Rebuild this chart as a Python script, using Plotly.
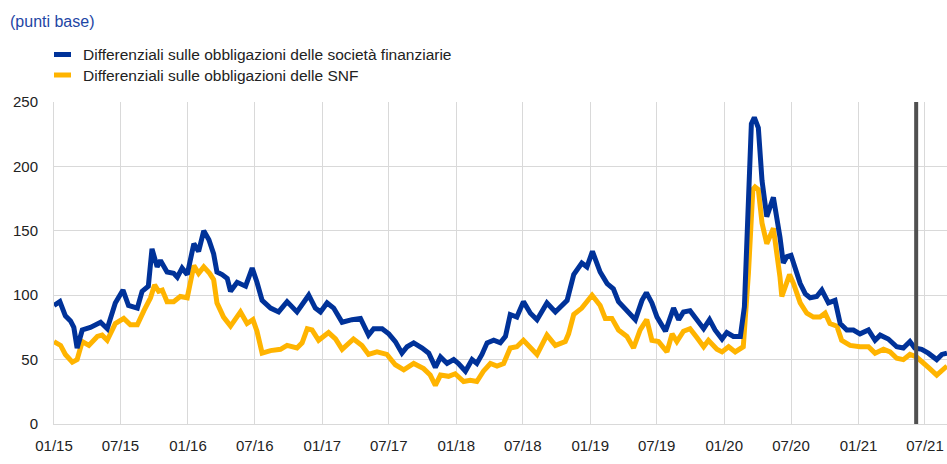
import plotly.graph_objects as go

# Bond spreads, basis points
fin_dates = [
    "2015-01-01", "2015-01-17", "2015-02-01", "2015-02-15", "2015-02-24", "2015-03-05", "2015-03-19",
    "2015-04-10", "2015-05-08", "2015-05-26", "2015-06-17", "2015-07-08", "2015-07-23", "2015-08-16",
    "2015-08-29", "2015-09-15", "2015-09-25", "2015-10-09", "2015-10-18", "2015-11-05", "2015-11-23",
    "2015-12-03", "2015-12-16", "2015-12-30", "2016-01-17", "2016-01-30", "2016-02-13", "2016-02-27",
    "2016-03-11", "2016-03-20", "2016-04-03", "2016-04-17", "2016-04-26", "2016-05-14", "2016-06-06",
    "2016-06-24", "2016-07-07", "2016-07-21", "2016-08-13", "2016-09-04", "2016-09-27", "2016-10-24",
    "2016-11-25", "2016-12-13", "2016-12-27", "2017-01-14", "2017-02-01", "2017-02-24", "2017-03-23",
    "2017-04-15", "2017-05-07", "2017-05-21", "2017-06-13", "2017-07-01", "2017-07-19", "2017-08-06",
    "2017-08-20", "2017-09-07", "2017-09-30", "2017-10-18", "2017-11-05", "2017-11-19", "2017-12-07",
    "2017-12-25", "2018-01-07", "2018-01-26", "2018-02-13", "2018-02-26", "2018-03-12", "2018-03-26",
    "2018-04-13", "2018-05-01", "2018-05-15", "2018-05-28", "2018-06-15", "2018-07-03", "2018-07-22",
    "2018-08-09", "2018-09-05", "2018-09-28", "2018-10-30", "2018-11-17", "2018-12-09", "2018-12-23",
    "2019-01-07", "2019-01-28", "2019-02-16", "2019-03-05", "2019-03-19", "2019-04-11", "2019-05-04",
    "2019-05-22", "2019-06-03", "2019-06-18", "2019-07-02", "2019-07-25", "2019-08-08", "2019-08-16",
    "2019-08-30", "2019-09-12", "2019-09-30", "2019-10-19", "2019-11-06", "2019-11-22", "2019-12-07",
    "2019-12-26", "2020-01-08", "2020-01-26", "2020-02-14", "2020-02-25", "2020-03-07", "2020-03-15",
    "2020-03-23", "2020-04-03", "2020-04-13", "2020-04-26", "2020-05-14", "2020-05-23", "2020-06-01",
    "2020-06-10", "2020-06-20", "2020-07-01", "2020-07-12", "2020-07-26", "2020-08-09", "2020-08-22",
    "2020-09-09", "2020-09-23", "2020-10-11", "2020-10-29", "2020-11-12", "2020-11-30", "2020-12-18",
    "2021-01-05", "2021-01-28", "2021-02-15", "2021-03-01", "2021-03-23", "2021-04-15", "2021-05-03",
    "2021-05-21", "2021-06-03", "2021-06-22", "2021-07-10", "2021-08-02", "2021-08-16", "2021-08-30",
]
fin_spread = [
    92, 95, 84, 80, 75, 59, 73,
    75, 79, 74, 94, 104, 92, 90,
    103, 107, 136, 122, 127, 118, 117,
    114, 121, 116, 140, 134, 150, 143,
    132, 118, 116, 113, 103, 110, 107,
    121, 110, 96, 90, 87, 95, 87,
    100, 90, 87, 94, 90, 79, 81,
    82, 69, 74, 74, 70, 64, 55,
    60, 63, 59, 55, 44, 52, 47,
    50, 47, 41, 50, 47, 54, 63,
    65, 63, 68, 85, 83, 95, 86,
    81, 94, 87, 96, 116, 125, 122,
    134, 118, 109, 105, 95, 88, 81,
    96, 102, 94, 83, 72, 83, 90,
    81, 87, 88, 81, 74, 81, 73,
    66, 71, 68, 68, 91, 182, 233,
    238, 230, 189, 161, 176, 161, 145,
    125, 130, 131, 122, 109, 101, 98,
    99, 104, 94, 96, 78, 73, 73,
    70, 73, 65, 69, 66, 60, 59,
    64, 59, 58, 55, 50, 54, 55,
]

nfc_dates = [
    "2015-01-01", "2015-01-19", "2015-02-01", "2015-02-20", "2015-03-05", "2015-03-19", "2015-04-06",
    "2015-04-29", "2015-05-12", "2015-05-26", "2015-06-17", "2015-07-10", "2015-07-28", "2015-08-16",
    "2015-09-03", "2015-09-21", "2015-10-02", "2015-10-13", "2015-10-23", "2015-11-05", "2015-11-23",
    "2015-12-11", "2015-12-30", "2016-01-17", "2016-01-30", "2016-02-13", "2016-02-29", "2016-03-11",
    "2016-03-20", "2016-04-07", "2016-04-26", "2016-05-23", "2016-06-10", "2016-06-26", "2016-07-07",
    "2016-07-21", "2016-08-13", "2016-09-09", "2016-09-27", "2016-10-24", "2016-11-07", "2016-11-21",
    "2016-12-04", "2016-12-22", "2017-01-18", "2017-02-06", "2017-02-24", "2017-03-14", "2017-03-27",
    "2017-04-19", "2017-05-07", "2017-05-30", "2017-06-26", "2017-07-19", "2017-08-11", "2017-09-07",
    "2017-10-04", "2017-10-22", "2017-11-05", "2017-11-19", "2017-12-11", "2017-12-29", "2018-01-21",
    "2018-02-08", "2018-02-26", "2018-03-16", "2018-04-04", "2018-04-22", "2018-05-10", "2018-05-28",
    "2018-06-15", "2018-07-03", "2018-07-22", "2018-08-09", "2018-09-05", "2018-09-28", "2018-10-25",
    "2018-11-03", "2018-11-17", "2018-12-09", "2019-01-06", "2019-01-28", "2019-02-11", "2019-03-01",
    "2019-03-19", "2019-04-11", "2019-04-29", "2019-05-17", "2019-06-04", "2019-06-18", "2019-07-06",
    "2019-07-29", "2019-08-12", "2019-08-25", "2019-09-12", "2019-09-30", "2019-10-19", "2019-11-06",
    "2019-11-19", "2019-12-12", "2019-12-26", "2020-01-13", "2020-01-31", "2020-02-22", "2020-03-07",
    "2020-03-19", "2020-03-25", "2020-04-03", "2020-04-13", "2020-04-26", "2020-05-14", "2020-05-23",
    "2020-06-01", "2020-06-06", "2020-06-15", "2020-06-27", "2020-07-08", "2020-07-26", "2020-08-13",
    "2020-08-31", "2020-09-18", "2020-10-02", "2020-10-15", "2020-11-03", "2020-11-16", "2020-12-09",
    "2021-01-05", "2021-01-28", "2021-02-15", "2021-03-10", "2021-03-28", "2021-04-15", "2021-05-03",
    "2021-05-21", "2021-06-08", "2021-06-26", "2021-07-14", "2021-08-02", "2021-08-16", "2021-08-30",
]
nfc_spread = [
    64, 61, 54, 48, 50, 64, 61,
    68, 69, 65, 78, 82, 77, 77,
    88, 98, 108, 103, 104, 95, 95,
    99, 98, 123, 117, 122, 117, 112,
    94, 83, 76, 87, 78, 81, 72,
    55, 57, 58, 61, 59, 63, 74,
    73, 65, 71, 66, 58, 63, 66,
    61, 54, 56, 54, 46, 42, 47,
    43, 38, 30, 38, 37, 39, 33,
    34, 33, 41, 47, 45, 47, 59,
    60, 65, 59, 54, 69, 61, 64,
    70, 85, 90, 100, 92, 82, 82,
    73, 68, 59, 73, 81, 65, 64,
    56, 70, 64, 72, 74, 67, 60,
    65, 58, 56, 60, 56, 60, 117,
    182, 184, 182, 156, 140, 152, 135,
    114, 99, 107, 116, 109, 94, 86,
    83, 83, 86, 78, 76, 65, 61,
    60, 60, 55, 58, 56, 51, 50,
    54, 52, 48, 43, 38, 42, 45,
]

fin_name = "Differenziali sulle obbligazioni delle società finanziarie"
nfc_name = "Differenziali sulle obbligazioni delle SNF"
unit_label = "(punti base)"
marker_date = "2021-06-07"

BLUE = "rgb(0,50,153)"
YELLOW = "rgb(255,180,0)"
GRID = "#d9d9d9"
TEXT = "#222222"
FONT = "Liberation Sans, Arial, sans-serif"

fig = go.Figure()
fig.add_trace(go.Scatter(x=nfc_dates, y=nfc_spread, mode="lines", name=nfc_name,
                         line=dict(color=YELLOW, width=5)))
fig.add_trace(go.Scatter(x=fin_dates, y=fin_spread, mode="lines", name=fin_name,
                         line=dict(color=BLUE, width=5)))

# plot area in pixels: x 54..947, y 102..424
W, H = 947, 464
L, R, T, B = 54, 0, 102, 40
pw, ph = W - L - R, H - T - B


def px(x):
    return (x - L) / pw


def py(y):
    return (H - B - y) / ph


shapes = [
    dict(type="line", xref="x", yref="paper", x0=marker_date, x1=marker_date, y0=0, y1=1,
         line=dict(color="#505050", width=4)),
]
annotations = [
    dict(text=unit_label, xref="paper", yref="paper", x=px(8), y=py(21), xanchor="left",
         yanchor="middle", showarrow=False, font=dict(family=FONT, size=16, color="rgb(30,70,165)")),
]
# legend drawn as line keys plus text
for name, color, ycen in [(fin_name, BLUE, 54.5), (nfc_name, YELLOW, 75)]:
    shapes.append(dict(type="line", xref="paper", yref="paper", x0=px(54), x1=px(71),
                       y0=py(ycen), y1=py(ycen), line=dict(color=color, width=5)))
    annotations.append(dict(text=name, xref="paper", yref="paper", x=px(81), y=py(ycen),
                            xanchor="left", yanchor="middle", showarrow=False,
                            font=dict(family=FONT, size=15.5, color=TEXT)))

fig.update_layout(
    width=W, height=H,
    margin=dict(l=L, r=R, t=T, b=B, pad=0),
    paper_bgcolor="white", plot_bgcolor="white",
    showlegend=False,
    font=dict(family=FONT, size=15, color=TEXT),
    shapes=shapes, annotations=annotations,
    xaxis=dict(type="date", range=["2015-01-01", "2021-08-30"], tick0="2015-01-01", dtick="M6",
               tickformat="%m/%y", showgrid=True, gridcolor=GRID, gridwidth=1,
               showline=True, linecolor=GRID, linewidth=1, zeroline=False,
               ticks="", ticklabelstandoff=8),
    yaxis=dict(range=[0, 250], dtick=50, showgrid=True, gridcolor=GRID, gridwidth=1,
               showline=True, linecolor=GRID, linewidth=1, zeroline=False,
               ticks="", ticklabelstandoff=12),
)

fig.write_html("out.html")
